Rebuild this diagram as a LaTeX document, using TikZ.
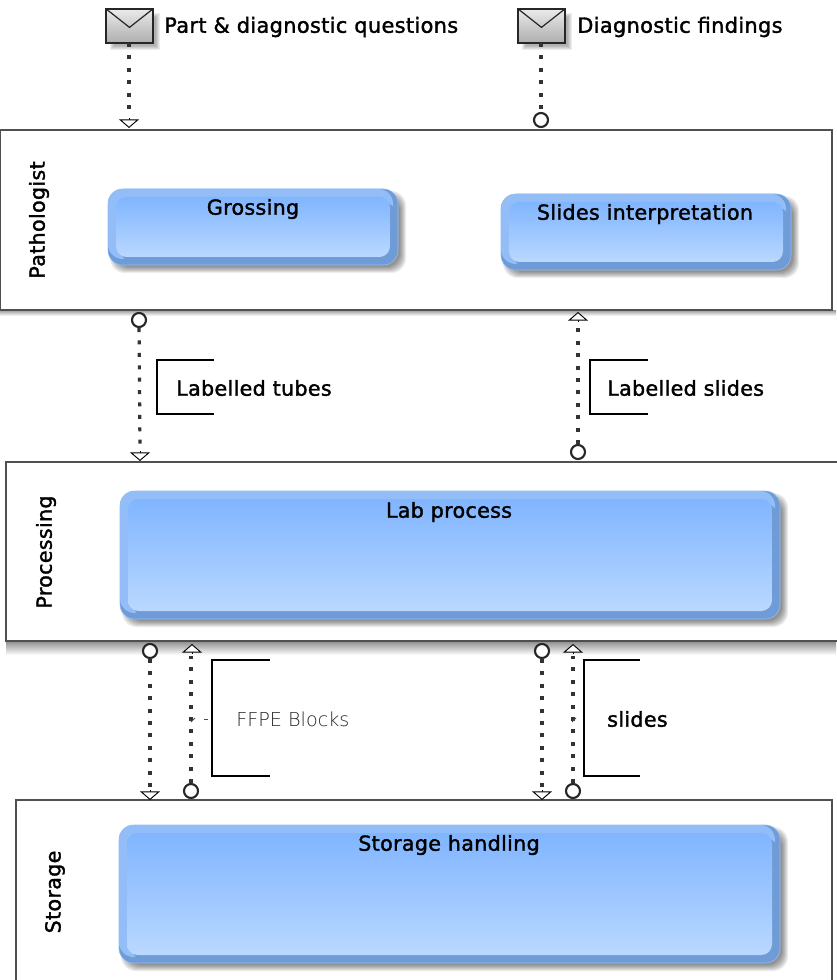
\documentclass[tikz,border=0pt]{standalone}
\usepackage{fontspec}
\setmainfont{DejaVu Sans}
\newfontfamily\lblfont[FakeBold=1.6,LetterSpace=1.5]{DejaVu Sans}
\newfontfamily\thinfont{DejaVu Sans ExtraLight}
\usetikzlibrary{arrows.meta,fit,calc}
\definecolor{topblue}{HTML}{80B5FF}
\definecolor{botblue}{HTML}{BAD8FF}
\definecolor{edgelight}{HTML}{92BDF6}
\definecolor{edgedark}{HTML}{6F9BD6}
\definecolor{poolline}{HTML}{505050}
\tikzset{
  poolbox/.style={draw=poolline,line width=0.9pt,fill=white,inner sep=0pt},
  poollabel/.style={rotate=90,font=\lblfont\fontsize{15.5}{18}\selectfont,text=black,inner sep=0pt},
  tasklabel/.style={font=\lblfont\fontsize{15.5}{18}\selectfont,text=black,inner sep=0pt},
  annlabel/.style={font=\lblfont\fontsize{15.5}{18}\selectfont,text=black,inner sep=0pt,anchor=west},
  msglabel/.style={font=\lblfont\fontsize{15.7}{18}\selectfont,text=black,inner sep=0pt,anchor=west},
  flowline/.style={line width=2.4pt,dash pattern=on 3pt off 6.3pt,draw=black!80},
  startdot/.style={circle,draw=black!85,line width=1.6pt,fill=white,minimum size=10.5pt,inner sep=0pt},
  opentip/.style={-{Triangle[open,fill=white,width=15pt,length=6.5pt,line width=0.7pt]}},
  bracketline/.style={draw=black,line width=1.5pt},
  envbox/.style={draw=black!85,line width=0.9pt,top color=white!92!black,bottom color=white!68!black,inner sep=0pt},
  outerbox/.style={inner sep=0pt,fill=edgedark,rounded corners=11pt,draw=edgelight,line width=0.4pt},
}
\newcommand{\softshadow}[5]{%
  \foreach \g in {-3,-2,-1,0,1,2,3}{
    \fill[black,opacity=0.075,rounded corners=11pt]
      ($(#1,#2)+(#5-\g,#5-\g)$) rectangle ($(#3,#4)+(#5+\g,#5+\g)$);
  }}
\newcommand{\taskbox}[5]{%
  \softshadow{#2}{#3}{#4}{#5}{5}
  \node[outerbox,fit={(#2,#3)(#4,#5)}] (#1) {};
  \fill[edgelight,rounded corners=11pt] (#2,#3) rectangle ($(#4,#5)+(-5,-6)$);
  \fill[edgedark,rounded corners=8pt] ($(#2,#3)+(14,14)$) rectangle ($(#4,#5)+(-2,-2)$);
  \shade[top color=topblue,bottom color=botblue,rounded corners=8pt]
     ($(#2,#3)+(8,8)$) rectangle ($(#4,#5)+(-8,-8)$);
}
\begin{document}
\begin{tikzpicture}[x=0.75pt,y=-0.75pt]
\useasboundingbox (0,0) rectangle (836,980);
% pool shadows
\shade[top color=black!40,bottom color=white] (0,310) rectangle (836,316);
\shade[top color=black!45,bottom color=white] (6,641) rectangle (836,655);
% pools
\node[poolbox,fit={(0,130)(832,310)}] (pathologist) {};
\node[poolbox,fit={(6,462)(838,641)}] (processing) {};
\node[poolbox,fit={(16,800)(832,995)}] (storage) {};
\node[poollabel] (pathlabel) at (39,220) {Pathologist};
\node[poollabel] (proclabel) at (46,552) {Processing};
\node[poollabel] (storlabel) at (55,892) {Storage};
% tasks
\taskbox{grossing}{108}{189}{398}{265}
\taskbox{slidesint}{501}{194}{791}{270}
\taskbox{labproc}{120}{491}{780}{619}
\taskbox{storagehandling}{119}{825}{780}{963}
\node[tasklabel] (t1) at (253,209) {Grossing};
\node[tasklabel] (t2) at (645,214) {Slides interpretation};
\node[tasklabel] (t3) at (449,512) {Lab process};
\node[tasklabel] (t4) at (449,845) {Storage handling};
% envelopes
\foreach \g in {0,1,2,3,4}{
  \fill[black,opacity=0.07] ($(106,9)+(8-\g,8-\g)$) rectangle ($(153,43)+(3+\g,3+\g)$);
  \fill[black,opacity=0.07] ($(518,9)+(8-\g,8-\g)$) rectangle ($(565,43)+(3+\g,3+\g)$);
}
\node[envbox,fit={(106,9)(153,43)}] (msga) {};
\draw[black!85,line width=0.9pt] (msga.north west) -- ($(msga.north)+(0,19)$) -- (msga.north east);
\node[envbox,fit={(518,9)(565,43)}] (msgb) {};
\draw[black!85,line width=0.9pt] (msgb.north west) -- ($(msgb.north)+(0,19)$) -- (msgb.north east);
\node[msglabel] (msgalabel) at (164,27) {Part \& diagnostic questions};
\node[msglabel] (msgblabel) at (577,27) {Diagnostic findings};
% end points
\coordinate (ta) at (129,128);
\coordinate (tb) at (140,461);
\coordinate (tc) at (578,312);
\coordinate (td) at (192,644);
\coordinate (te) at (573,644);
\coordinate (tf) at (150,800);
\coordinate (tg) at (542,800);
\coordinate (msgaout) at (129,43);
\coordinate (msgbout) at (541,43);
\node[startdot] (ca) at (541,120) {};
\node[startdot] (cb) at (139,320) {};
\node[startdot] (cc) at (578,452) {};
\node[startdot] (cd) at (150,651) {};
\node[startdot] (ce) at (191,791) {};
\node[startdot] (cf) at (542,651) {};
\node[startdot] (cg) at (573,791) {};
% flows
\draw[flowline] (msgaout) -- (129,116);
\draw[opentip,line width=0.7pt] (129,118) -- (ta);
\draw[flowline] (msgbout) -- (ca);
\draw[flowline] (cb) -- (140,449);
\draw[opentip,line width=0.7pt] (140,451) -- (tb);
\draw[flowline] (cc) -- (578,324);
\draw[opentip,line width=0.7pt] (578,322) -- (tc);
\draw[flowline] (ce) -- (191,656);
\draw[opentip,line width=0.7pt] (192,654) -- (td);
\draw[flowline] (cg) -- (573,656);
\draw[opentip,line width=0.7pt] (573,654) -- (te);
\draw[flowline] (cd) -- (150,788);
\draw[opentip,line width=0.7pt] (150,790) -- (tf);
\draw[flowline] (cf) -- (542,788);
\draw[opentip,line width=0.7pt] (542,790) -- (tg);
% annotations
\draw[bracketline] (214,360) -- (157,360) -- (157,414) -- (214,414);
\node[annlabel] (ann1) at (176,388) {Labelled tubes};
\draw[bracketline] (648,360) -- (590,360) -- (590,414) -- (648,414);
\node[annlabel] (ann2) at (607,388) {Labelled slides};
\draw[bracketline,line width=1.7pt] (270,660) -- (212,660) -- (212,776) -- (270,776);
\node[annlabel,font=\thinfont\fontsize{14.4}{16}\selectfont,text=black!85] (ann3) at (236,719) {FFPE Blocks};
\draw[black!70,line width=0.6pt] (204,719) -- (208,719);
\draw[black!70,line width=0.6pt] (191,722) -- (195,718);
\draw[bracketline,line width=1.7pt] (640,660) -- (584,660) -- (584,776) -- (640,776);
\node[annlabel] (ann4) at (607,719) {slides};
\draw[black!70,line width=0.6pt] (572,722) -- (576,718);
\end{tikzpicture}
\end{document}
